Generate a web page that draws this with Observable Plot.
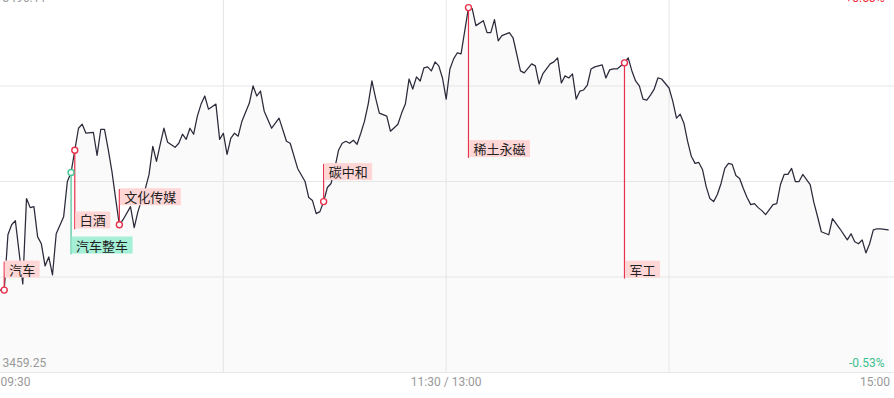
<!DOCTYPE html>
<html><head><meta charset="utf-8">
<script src="https://cdn.jsdelivr.net/npm/d3@7"></script>
<script src="https://cdn.jsdelivr.net/npm/@observablehq/plot@0.6"></script>
<style>
html,body{margin:0;padding:0;background:#fff;overflow:hidden;}
#chart{width:894px;height:398px;overflow:hidden;position:relative;}
#chart svg{display:block;margin-top:-20px;}
</style></head><body><div id="chart"></div>
<script>
// minute index since 09:30 (trading minutes, 11:30/13:00 = 120)
const minutes = [0,1,2,3,4,5,6,7,8,9,10,11,12,13,14,15,17,18,19,20,21,22,23,25,26,27,28,29,30,31,32,33,35,36,37,39,40,41,42,43,44,45,47,48,49,50,51,52,53,54,55,56,58,59,60,61,62,63,64,65,67,68,69,70,71,73,75,77,78,80,82,83,84,85,86,87,88,89,90,91,92,93,94,95,96,97,98,99,100,101,102,104,105,107,108,109,110,111,112,113,114,115,116,117,118,119,120,121,122,123,124,126,127,128,130,131,132,133,134,135,137,138,140,141,143,144,145,146,148,149,150,151,152,153,154,155,156,157,158,159,160,162,163,164,165,166,168,169,170,171,172,173,174,175,176,177,178,180,181,182,183,184,185,186,187,188,189,190,191,192,193,194,195,196,197,198,199,200,201,202,203,204,205,206,208,209,210,211,212,213,214,215,216,218,219,220,221,223,224,226,228,229,230,231,232,233,234,235,236,237,239];
const prices = [3467.20,3467.20,3472.54,3473.51,3473.90,3470.89,3467.79,3476.03,3475.16,3475.25,3472.34,3471.67,3469.53,3470.40,3468.66,3472.64,3474.28,3477.68,3478.55,3480.69,3482.82,3483.21,3482.34,3482.43,3480.20,3482.72,3482.72,3480.78,3478.65,3476.03,3473.51,3473.99,3475.25,3473.22,3474.77,3477.00,3478.36,3481.08,3479.62,3481.27,3482.82,3481.46,3480.98,3481.37,3482.24,3481.75,3482.82,3482.24,3483.99,3485.15,3485.93,3484.66,3485.15,3481.75,3482.34,3480.30,3481.85,3482.34,3482.05,3483.50,3485.25,3486.90,3485.93,3486.41,3484.47,3482.82,3483.79,3481.56,3481.37,3478.94,3477.68,3476.13,3475.84,3474.58,3474.77,3475.74,3477.10,3477.49,3478.94,3480.69,3481.37,3481.56,3481.37,3481.66,3481.27,3482.34,3483.50,3485.15,3487.38,3485.73,3484.28,3483.99,3482.53,3483.21,3484.28,3485.15,3487.57,3486.60,3487.77,3487.38,3488.64,3488.74,3488.35,3489.22,3488.84,3487.67,3485.63,3488.54,3489.51,3490.10,3490.00,3494.46,3494.36,3492.72,3493.20,3492.04,3492.04,3493.30,3491.26,3491.75,3492.04,3491.55,3488.35,3488.16,3489.03,3488.84,3487.09,3488.06,3489.03,3489.22,3489.61,3487.19,3487.87,3487.67,3488.06,3485.63,3486.41,3486.51,3486.99,3488.54,3488.74,3488.93,3487.67,3488.45,3488.54,3488.54,3489.13,3489.61,3488.35,3487.38,3486.90,3485.63,3485.54,3486.02,3486.60,3487.67,3487.57,3486.70,3485.44,3483.79,3484.18,3483.31,3481.56,3480.11,3479.43,3479.52,3478.84,3477.19,3476.03,3475.74,3476.42,3477.49,3478.94,3479.43,3479.33,3478.26,3477.97,3477.00,3476.13,3475.45,3475.55,3475.16,3474.87,3474.48,3475.45,3475.55,3477.39,3478.36,3478.36,3478.94,3477.68,3477.68,3478.36,3477.39,3475.64,3474.28,3472.83,3472.54,3474.09,3473.12,3472.05,3472.64,3471.86,3471.67,3472.05,3470.79,3471.67,3473.02,3473.12,3473.12,3473.02];

// sector events
const eventNames   = ["汽车","汽车整车","白酒","文化传媒","碳中和","稀土永磁","军工"];
const eventMinutes = [1,19,20,32,87,126,168];
const eventKinds   = ["up","down","up","up","up","up","up"];
const eventLabelAt = [3469.92,3470.60,3473.02,3476.90,3479.33,3479.91,3468.27];

// axis labels
const priceLow = 3459.25, priceHigh = 3496.11;
const priceLabels = ["3496.11","3459.25"];
const pctLabels = ["+0.53%","-0.53%"];
const timeTicks = [0,120,240];
const timeLabels = ["09:30","11:30 / 13:00","15:00"];
const gridMinutes = [60,120,180];

const series = minutes.map((m,i)=>({m, p: prices[i]}));
const priceAt = m => prices[minutes.indexOf(m)];
const kindColor = {up:"#e8304a", down:"#45c596"};
const kindFill = {up:"#ffd6d6", down:"#a4efd6"};
const events = eventNames.map((name,i)=>{
  const v = priceAt(eventMinutes[i]);
  return {name, m: eventMinutes[i], v, edge: eventLabelAt[i], kind: eventKinds[i],
          color: kindColor[eventKinds[i]], above: eventLabelAt[i] > v};
});
const above = events.filter(d=>d.above), below = events.filter(d=>!d.above);
const gridPrices = d3.range(5).map(i=> priceLow + i*(priceHigh-priceLow)/4);

const chart = Plot.plot({
  width: 894, height: 418,
  marginTop: 10, marginBottom: 26, marginLeft: 0, marginRight: 0,
  style: {fontFamily: "'Noto Sans CJK SC', sans-serif", background: "#fff"},
  x: {domain: [0, 240.7], axis: null},
  y: {domain: [priceLow, priceHigh], axis: null},
  marks: [
    Plot.areaY(series, {x:"m", y1: priceLow, y2:"p", fill:"#fafafa"}),
    Plot.ruleY(gridPrices, {stroke:"#e6e6e6", strokeWidth:1}),
    Plot.ruleX(gridMinutes, {stroke:"#e6e6e6", strokeWidth:1}),
    Plot.line(series, {x:"m", y:"p", stroke:"#2a2a3a", strokeWidth:1.25}),
    Plot.ruleX(events, {x:"m", y1:"v", y2:"edge", stroke:"color", strokeWidth:1.2}),
    Plot.text(above, {x:"m", y:"edge", text:"name", textAnchor:"start", dx:5, dy:8.5, fontSize:13, fill:"#222"}),
    Plot.text(below, {x:"m", y:"edge", text:"name", textAnchor:"start", dx:5, dy:-8.5, fontSize:13, fill:"#222"}),
    Plot.dot(events, {x:"m", y:"v", r:3, fill:"white", stroke:"color", strokeWidth:1.4}),
    // price / pct labels
    Plot.text([priceLabels[0]], {frameAnchor:"top-left", textAnchor:"start", lineAnchor:"middle", dx:2, dy:8, fill:"#999", fontSize:12, fontFamily:"Roboto"}),
    Plot.text([pctLabels[0]], {frameAnchor:"top-right", textAnchor:"end", lineAnchor:"middle", dx:-10, dy:8, fill:"#f0283c", fontSize:12, fontFamily:"Roboto"}),
    Plot.text([priceLabels[1]], {frameAnchor:"bottom-left", textAnchor:"start", lineAnchor:"middle", dx:2, dy:-9.5, fill:"#999", fontSize:12, fontFamily:"Roboto"}),
    Plot.text([pctLabels[1]], {frameAnchor:"bottom-right", textAnchor:"end", lineAnchor:"middle", dx:-10, dy:-9.5, fill:"#3cc08f", fontSize:12, fontFamily:"Roboto"}),
    // time labels
    Plot.text([0], {x: d=>timeTicks[d], frameAnchor:"bottom", text: d=>timeLabels[d], textAnchor:"start", lineAnchor:"middle", dy:10, fill:"#999", fontSize:12, fontFamily:"Roboto"}),
    Plot.text([1], {x: d=>timeTicks[d], frameAnchor:"bottom", text: d=>timeLabels[d], textAnchor:"middle", lineAnchor:"middle", dy:10, fill:"#999", fontSize:12, fontFamily:"Roboto"}),
    Plot.text([2], {x: d=>timeTicks[d], frameAnchor:"bottom", text: d=>timeLabels[d], textAnchor:"end", lineAnchor:"middle", dx:-2, dy:10, fill:"#999", fontSize:12, fontFamily:"Roboto"})
  ]
});
document.getElementById("chart").append(chart);

// label background boxes, matched by label text (copy each text's own transform)
const ns = "http://www.w3.org/2000/svg";
chart.querySelectorAll("text").forEach(t => {
  const ev = events.find(e => e.name === t.textContent);
  if (!ev) return;
  const b = t.getBBox();
  const r = document.createElementNS(ns, "rect");
  r.setAttribute("x", b.x - 4.5);
  r.setAttribute("y", b.y + b.height/2 - 8.5);
  r.setAttribute("width", b.width + 9);
  r.setAttribute("height", 17);
  r.setAttribute("fill", kindFill[ev.kind]);
  const tf = t.getAttribute("transform");
  if (tf) r.setAttribute("transform", tf);
  t.parentNode.insertBefore(r, t);
});
</script></body></html>
